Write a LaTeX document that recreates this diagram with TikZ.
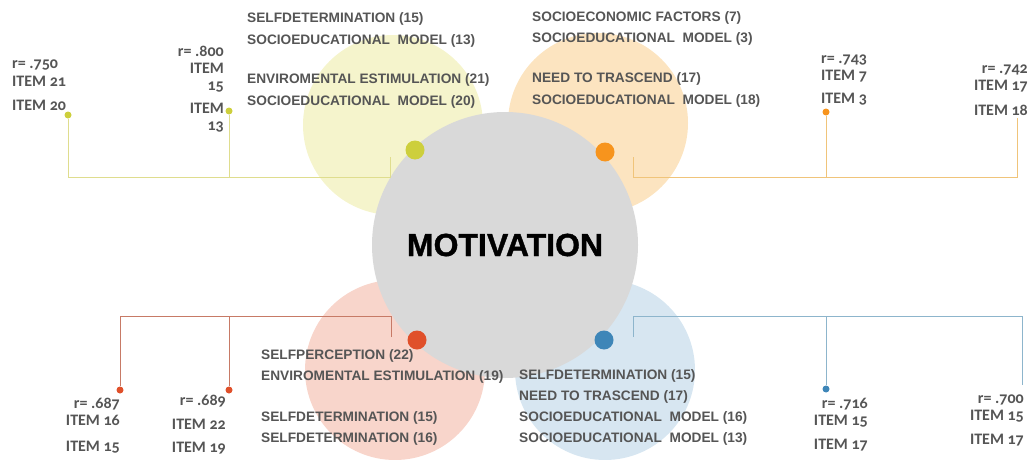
\documentclass[tikz,border=0pt]{standalone}
\usepackage{fontspec}
\setmainfont{Liberation Sans}
\newfontfamily\itemfont[Numbers=OldStyle]{Carlito}
\newfontfamily\heavyfont[FakeBold=1.2]{Liberation Sans Bold}
\usetikzlibrary{positioning, calc}
\definecolor{motgray}{HTML}{D9D9D9}
\definecolor{txtgray}{HTML}{555555}
\definecolor{ylwfill}{HTML}{F5F4CC}
\definecolor{ylwdot}{HTML}{CDCF3C}
\definecolor{ylwline}{HTML}{DFDD8E}
\definecolor{orgfill}{HTML}{FCE4C0}
\definecolor{orgdot}{HTML}{F7941D}
\definecolor{orgline}{HTML}{F0C47A}
\definecolor{redfill}{HTML}{F8D5CB}
\definecolor{reddot}{HTML}{E0502A}
\definecolor{redline}{HTML}{C77A66}
\definecolor{bluefill}{HTML}{D7E6F1}
\definecolor{bluedot}{HTML}{3E86B8}
\definecolor{blueline}{HTML}{8DB5CC}

\begin{document}
\begin{tikzpicture}[x=1pt, y=-1pt,
    area/.style={circle, inner sep=0pt, minimum size=#1},
    bigdot/.style={circle, fill=#1, inner sep=0pt, minimum size=19pt},
    smalldot/.style={circle, fill=#1, inner sep=0pt, minimum size=7pt},
    link/.style={draw=#1, line width=1pt},
    cat/.style={text=txtgray, font=\bfseries\fontsize{13.7}{21}\selectfont, align=left, anchor=base west, inner sep=0pt},
    rval/.style={text=txtgray, font=\itemfont\bfseries\fontsize{16}{17}\selectfont, inner sep=0pt}]
    \useasboundingbox (0,0) rectangle (1033,460);

    % Factor circles
    \node[area=180pt, fill=ylwfill] (selfcirc) at (393,125) {};
    \node[area=180pt, fill=orgfill] (sociocirc) at (598,123) {};
    \node[area=180pt, fill=redfill] (percirc) at (395,370) {};
    \node[area=180pt, fill=bluefill] (transcirc) at (605,370) {};

    % Centre circle
    \node[area=266pt, fill=motgray, font=\heavyfont\fontsize{32}{32}\selectfont] (motiv) at (505,245) {MOTIVATION};

    % Top left branch
    \coordinate (ytop) at (390,157);
    \coordinate (ybar) at (390,177);
    \node[smalldot=ylwdot] (y1) at (68,115) {};
    \node[smalldot=ylwdot] (y2) at (229,111) {};
    \draw[link=ylwline] (ytop) -- (ybar) -| (y1);
    \draw[link=ylwline] (y2) -- (y2 |- ybar);

    % Top right branch
    \coordinate (otop) at (633,157);
    \coordinate (obar) at (633,177);
    \node[smalldot=orgdot] (o1) at (826,112) {};
    \coordinate (o2) at (1017,118);
    \draw[link=orgline] (otop) -- (obar) -| (o2);
    \draw[link=orgline] (o1) -- (o1 |- obar);

    % Bottom left branch
    \coordinate (rtop) at (391,337);
    \coordinate (rbar) at (391,316);
    \node[smalldot=reddot] (r1) at (120,390) {};
    \node[smalldot=reddot] (r2) at (229,390) {};
    \draw[link=redline] (rtop) -- (rbar) -| (r1);
    \draw[link=redline] (r2) -- (r2 |- rbar);

    % Bottom right branch
    \coordinate (btop) at (633,337);
    \coordinate (bbar) at (633,316);
    \node[smalldot=bluedot] (b1) at (826,389) {};
    \coordinate (b2) at (1022,385);
    \draw[link=blueline] (btop) -- (bbar) -| (b2);
    \draw[link=blueline] (b1) -- (b1 |- bbar);

    % Dots on the centre circle
    \node[bigdot=ylwdot] (ydot) at (415,150) {};
    \node[bigdot=orgdot] (odot) at (605,152) {};
    \node[bigdot=reddot] (rdot) at (417,340) {};
    \node[bigdot=bluedot] (bdot) at (604,340) {};

    % Factor labels (placed by the baseline of their last line)
    \node[cat] (selftxt) at (247,105) {SELFDETERMINATION (15)\\SOCIOEDUCATIONAL\ \ MODEL (13)\\[19pt]ENVIROMENTAL ESTIMULATION (21)\\SOCIOEDUCATIONAL\ \ MODEL (20)};
    \node[cat] (sociotxt) at (532,104) {SOCIOECONOMIC FACTORS (7)\\SOCIOEDUCATIONAL\ \ MODEL (3)\\[19pt]NEED TO TRASCEND (17)\\[1pt]SOCIOEDUCATIONAL\ \ MODEL (18)};
    \node[cat] (pertxt) at (261,442) {SELFPERCEPTION (22)\\ENVIROMENTAL ESTIMULATION (19)\\[20pt]SELFDETERMINATION (15)\\SELFDETERMINATION (16)};
    \node[cat] (transtxt) at (519,442) {SELFDETERMINATION (15)\\NEED TO TRASCEND (17)\\SOCIOEDUCATIONAL\ \ MODEL (16)\\SOCIOEDUCATIONAL\ \ MODEL (13)};

    % Correlation labels
    \node[rval, align=left, anchor=base west] (ra) at (12,110) {r= .750\\ITEM 21\\[7pt]ITEM 20};
    \node[rval, align=right, anchor=base east] (rb) at (224,130) {r= .800\\ITEM\\15\\[6pt]ITEM\\13};
    \node[rval, align=left, anchor=base west] (rc) at (821,103) {r= .743\\ITEM 7\\[6pt]ITEM 3};
    \node[rval, align=right, anchor=base east] (rd) at (1028,115) {r= .742\\ITEM 17\\[8pt]ITEM 18};
    \node[rval, align=right, anchor=base east] (re) at (120,451) {r= .687\\ITEM 16\\[9pt]ITEM 15};
    \node[rval, align=right, anchor=base east] (rf) at (226,452) {r= .689\\[7pt]ITEM 22\\[6pt]ITEM 19};
    \node[rval, align=right, anchor=base east] (rg) at (868,449) {r= .716\\ITEM 15\\[7pt]ITEM 17};
    \node[rval, align=right, anchor=base east] (rh) at (1024,444) {r= .700\\ITEM 15\\[7pt]ITEM 17};
\end{tikzpicture}
\end{document}
